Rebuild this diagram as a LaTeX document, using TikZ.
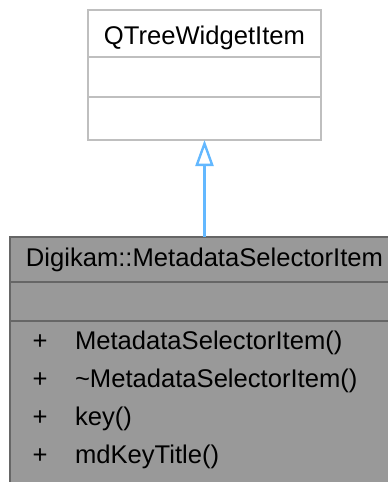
\documentclass[tikz,border=0pt]{standalone}
\usepackage{fontspec}
\setmainfont{Liberation Sans}
\usetikzlibrary{arrows.meta}
\definecolor{topline}{HTML}{BFBFBF}
\definecolor{botfill}{HTML}{999999}
\definecolor{botline}{HTML}{666666}
\definecolor{arrowc}{HTML}{63B8FF}
\begin{document}
\begin{tikzpicture}[x=1pt,y=-1pt,
  every node/.style={font=\fontsize{25.6}{30}\selectfont, inner sep=0pt, outer sep=0pt},
  topbox/.style={draw=topline, fill=white, line width=2.2pt, rectangle, anchor=north west},
  botbox/.style={draw=botline, fill=botfill, line width=2.2pt, rectangle, anchor=north west},
  label/.style={anchor=base, text=black},
  member/.style={anchor=base west, text=black},
  plus/.style={anchor=base, text=black},
  inherit/.style={draw=arrowc, line width=2.4pt, -{Triangle[open, length=26pt, width=18pt, line width=2.4pt]}}
]
\useasboundingbox (0,0) rectangle (388,482);
\clip (0,0) rectangle (388,482);
% top class
\node[topbox, minimum width=233pt, minimum height=47pt] (qtw) at (88,10) {};
\node[topbox, minimum width=233pt, minimum height=40pt] (qtwa) at (88,57) {};
\node[topbox, minimum width=233pt, minimum height=43pt] (qtwb) at (88,97) {};
\node[label] (qtwt) at (204.5,44.3) {QTreeWidgetItem};
% bottom class
\node[botbox, minimum width=389pt, minimum height=45pt] (msi) at (10,237) {};
\node[botbox, minimum width=389pt, minimum height=39pt] (msia) at (10,282) {};
\node[botbox, minimum width=389pt, minimum height=200pt] (msib) at (10,321) {};
\node[label] (msit) at (204.5,266.5) {Digikam::MetadataSelectorItem};
% members
\node[plus] (p1) at (40,349) {+};
\node[member] (m1) at (75,349) {MetadataSelectorItem()};
\node[plus] (p2) at (40,387) {+};
\node[member] (m2) at (75,387) {\textasciitilde MetadataSelectorItem()};
\node[plus] (p3) at (40,425) {+};
\node[member] (m3) at (75,425) {key()};
\node[plus] (p4) at (40,463) {+};
\node[member] (m4) at (75,463) {mdKeyTitle()};
% inheritance
\draw[inherit] (msi.north) -- (qtwb.south);
\end{tikzpicture}
\end{document}
